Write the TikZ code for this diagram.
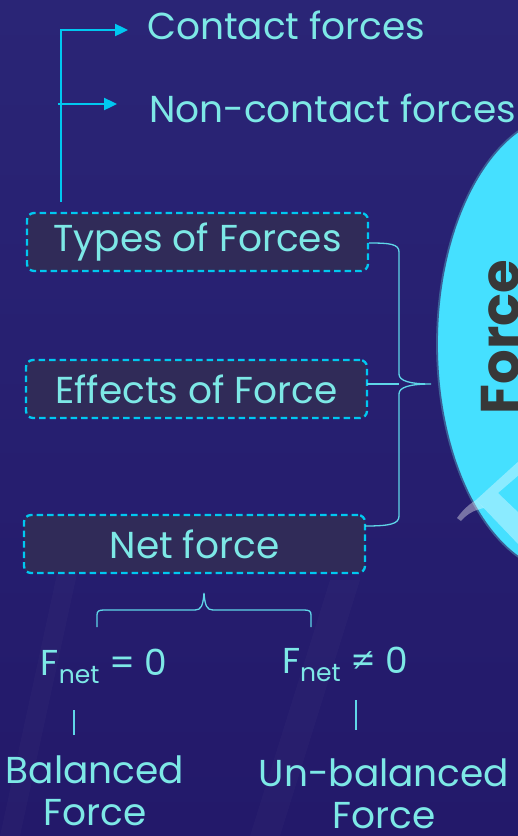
\documentclass[tikz,border=0pt]{standalone}
\usepackage{fontspec}
\setmainfont{Poppins}
\usetikzlibrary{arrows.meta,calc}
\definecolor{bgtop}{HTML}{2A2576}
\definecolor{bgbot}{HTML}{23196A}
\definecolor{txt}{HTML}{7DE8E6}
\definecolor{cyanl}{HTML}{00C8F0}
\definecolor{boxfill}{HTML}{302B58}
\definecolor{thinl}{HTML}{5FD6E8}
\definecolor{ellfill}{HTML}{45E0FF}
\definecolor{elledge}{HTML}{3B5F96}
\definecolor{forcetxt}{HTML}{383838}
\tikzset{
  lbl/.style={text=txt, font=\fontsize{37.5}{44}\selectfont, inner sep=0pt},
  topicbox/.style={draw=cyanl, line width=2.3pt, dash pattern=on 6.5pt off 4pt,
     fill=boxfill, rounded corners=7pt, minimum width=341pt, minimum height=58pt,
     text=txt, font=\fontsize{37.5}{44}\selectfont, inner sep=0pt},
  arrline/.style={draw=cyanl, line width=2.4pt, -{Triangle[length=13pt,width=12pt]}},
  thin/.style={draw=thinl, line width=1.3pt},
}
\begin{document}
\begin{tikzpicture}[x=1pt,y=-1pt]
\useasboundingbox (0,0) rectangle (518,836);
% background
\shade[top color=bgtop, bottom color=bgbot] (0,0) rectangle (518,836);
\fill[white, opacity=0.018] (330,580) -- (360,580) -- (280,836) -- (250,836) -- cycle;
\fill[white, opacity=0.018] (60,560) -- (80,560) -- (20,836) -- (0,836) -- cycle;
% ellipse
\begin{scope}
\clip (0,0) rectangle (518,836);
\draw[fill=ellfill, draw=elledge, line width=1.8pt] (568,344) ellipse [x radius=131, y radius=230];
\fill[white, opacity=0.38] (520,460) -- (476,500) -- (520,546) -- (520,514) -- (498,493) -- (520,474) -- cycle;
\fill[white, opacity=0.38] (476,500) .. controls (468,505) and (462,511) .. (457,518)
   -- (461,521) .. controls (467,514) and (474,510) .. (484,508) -- cycle;
\end{scope}
\node[rotate=90, text=forcetxt, font=\fontsize{54.5}{60}\selectfont\bfseries, inner sep=0pt] (force) at (501,337) {Force};
% top labels
\node[lbl, anchor=west] (contact) at (147,25) {Contact forces};
\node[lbl, anchor=west] (noncontact) at (149,108) {Non-contact forces};
% boxes
\node[topicbox] (types) at (197.5,242) {Types of Forces};
\node[topicbox] (effects) at (196.5,389) {Effects of Force};
\node[topicbox] (net) at (194.5,544) {Net force};
% arrows
\coordinate (vbot) at (61,202);
\coordinate (ncstart) at (58,104);
\draw[arrline] (vbot) |- ([xshift=-19pt,yshift=-5pt]contact.west);
\draw[arrline] (ncstart) -- ([xshift=-32pt,yshift=4pt]noncontact.west);
% right brace
\coordinate (tip) at (431,384);
\coordinate (netr) at (365,526);
\coordinate (effr) at (367,384);
\draw[thin] ([yshift=-1pt]types.east) .. controls (390,243) and (399,244) .. (399,252) -- (399,374)
   .. controls (399,381) and (410,384) .. (tip)
   .. controls (410,384) and (399,387) .. (399,394) -- (399,516)
   .. controls (399,524) and (390,526) .. (netr);
\draw[thin] (effr) -- (399,384);
% bottom brace
\coordinate (bl) at (97,627);
\coordinate (br) at (311,627);
\coordinate (btip) at (204,593);
\draw[thin] (bl) -- (97,615) .. controls (97,611) and (99,610) .. (104,610) -- (195,610)
   .. controls (201,610) and (203,606) .. (btip)
   .. controls (205,606) and (207,610) .. (213,610) -- (304,610)
   .. controls (309,610) and (311,611) .. (311,615) -- (br);
% F net labels
\node[lbl, font=\fontsize{36}{42}\selectfont] (fz) at (104,666) {F\raisebox{-8pt}{\fontsize{25}{28}\selectfont net} = 0};
\node[lbl, font=\fontsize{36}{42}\selectfont] (fnz) at (345,664) {F\raisebox{-8pt}{\fontsize{25}{28}\selectfont net} ≠ 0};
% vertical ticks
\coordinate (l1) at (74,710); \coordinate (l2) at (74,735);
\coordinate (r1) at (356,700); \coordinate (r2) at (356,730);
\draw[thin] (l1) -- (l2);
\draw[thin] (r1) -- (r2);
% bottom labels
\node[lbl, align=center, font=\fontsize{37.5}{42}\selectfont] (bal) at (95,791) {Balanced\\Force};
\node[lbl, align=center, font=\fontsize{37.5}{42}\selectfont] (unbal) at (384,794) {Un-balanced\\Force};
\end{tikzpicture}
\end{document}
